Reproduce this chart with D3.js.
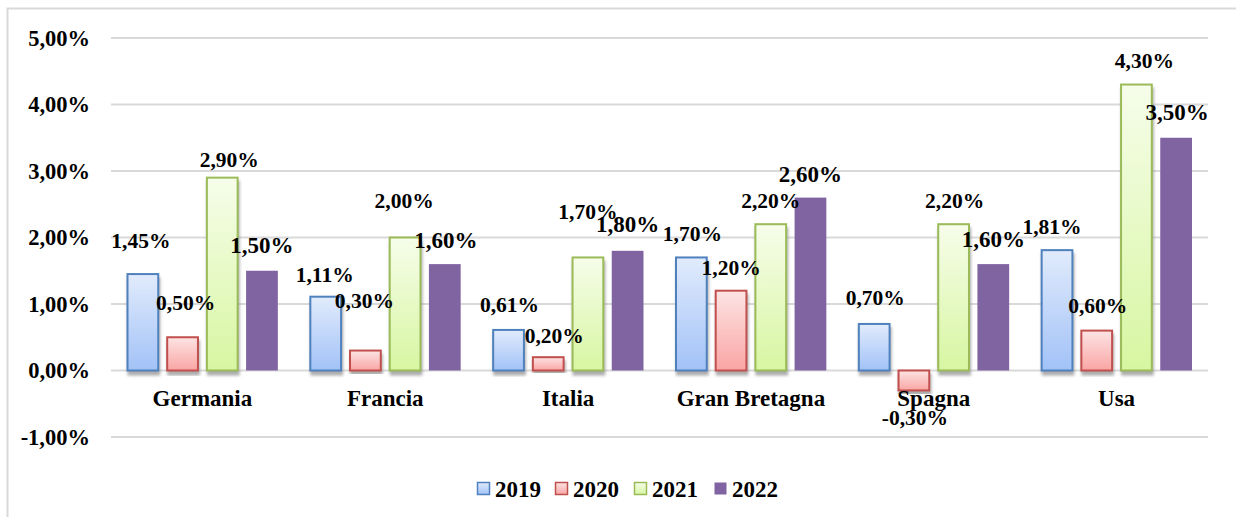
<!DOCTYPE html>
<html>
<head>
<meta charset="utf-8">
<script src="https://cdn.jsdelivr.net/npm/d3@7"></script>
<style>
  body { margin: 0; background: #fff; }
</style>
</head>
<body>
<div id="chart"></div>
<script>
// dati
const countries = ["Germania", "Francia", "Italia", "Gran Bretagna", "Spagna", "Usa"];
const years = ["2019", "2020", "2021", "2022"];
const v2019 = [1.45, 1.11, 0.61, 1.70, 0.70, 1.81];
const v2020 = [0.50, 0.30, 0.20, 1.20, -0.30, 0.60];
const v2021 = [2.90, 2.00, 1.70, 2.20, 2.20, 4.30];
const v2022 = [1.50, 1.60, 1.80, 2.60, 1.60, 3.50];
const yTicks = [-1, 0, 1, 2, 3, 4, 5];

// spostamenti delle etichette (come nell'originale, spostate a mano)
const nudgeX = [[-2, -1, 1, 1, 1, -5], [3, -1, 6, 0, 1, 1], [7, -1, 0, 0, 1, 8], [0, 1, 0, 0, 0, 1]];
const nudgeY = [[-34, -22, -25, -24, -26, -24], [-35, -50, -22, -23, 27, -25], [-18, -37, -46, -24, -24, -24], [-26, -24, -27, -24, -25, -26]];

const series = [v2019, v2020, v2021, v2022];

const FONT = "'Liberation Serif', 'Times New Roman', serif";
const fmt = d => d3.format(".2f")(d).replace(".", ",").replace("\u2212", "-") + "%";

const width = 1236, height = 517;
const margin = { top: 38, left: 111, right: 28 };

const svg = d3.select("#chart").append("svg")
  .attr("width", width)
  .attr("height", height)
  .style("font-family", FONT);

const defs = svg.append("defs");
const grads = [
  { top: "#e1ebfc", bottom: "#a2c2f7", stroke: "#4f81bd" },
  { top: "#fde4e4", bottom: "#f9a5a4", stroke: "#c0504d" },
  { top: "#f6fdea", bottom: "#d7f6a1", stroke: "#9bbb59" },
  { top: "#8064a2", bottom: "#8064a2", stroke: "none" }
];
grads.forEach(function (g, i) {
  const lg = defs.append("linearGradient").attr("id", "g" + i)
    .attr("x1", 0).attr("y1", 0).attr("x2", 0).attr("y2", 1);
  lg.append("stop").attr("offset", "0%").attr("stop-color", g.top);
  lg.append("stop").attr("offset", "100%").attr("stop-color", g.bottom);
});
defs.append("filter").attr("id", "shadow")
  .attr("x", "-20%").attr("y", "-5%").attr("width", "140%").attr("height", "120%")
  .append("feDropShadow")
  .attr("dx", 1).attr("dy", 4).attr("stdDeviation", 1.6)
  .attr("flood-color", "#888").attr("flood-opacity", 0.7);

// cornice
svg.append("path")
  .attr("d", "M7.5," + height + " V8.5 H" + width)
  .attr("fill", "none").attr("stroke", "#d9d9d9").attr("stroke-width", 2);

const x0 = d3.scaleBand().domain(countries)
  .range([margin.left, width - margin.right]).paddingInner(0.175).paddingOuter(0.0875);
const x1 = d3.scaleBand().domain(years).range([0, x0.bandwidth()]).paddingInner(0.2);

const y = d3.scaleLinear().domain([-1, 5]).range([437, 38]);

// griglia
svg.append("g").selectAll("line").data(yTicks).enter().append("line")
  .attr("x1", margin.left).attr("x2", width - margin.right)
  .attr("y1", d => y(d)).attr("y2", d => y(d))
  .attr("stroke", "#d9d9d9").attr("stroke-width", 2);

function styleText(sel, size) {
  sel.style("font-family", FONT).style("font-weight", "bold")
    .style("font-size", size + "px").attr("fill", "#000");
}

// asse y
const yAxis = d3.axisLeft(y).tickValues(yTicks)
  .tickFormat(fmt)
  .tickSize(0).tickPadding(21);
svg.append("g").attr("transform", "translate(" + margin.left + ",0)")
  .call(yAxis)
  .attr("font-family", null)
  .call(g => g.select(".domain").remove())
  .selectAll("text").call(styleText, 22.5);

// barre
series.forEach(function (vals, s) {
  const g = svg.append("g");
  g.selectAll("rect").data(vals).enter().append("rect")
    .attr("x", (d, i) => x0(countries[i]) + x1(years[s]) + (s < 3 ? 0.5 : 0))
    .attr("y", d => y(Math.max(0, d)))
    .attr("width", x1.bandwidth() - (s < 3 ? 1 : 0))
    .attr("height", d => Math.abs(y(d) - y(0)))
    .attr("fill", "url(#g" + s + ")")
    .attr("stroke", grads[s].stroke)
    .attr("stroke-width", s < 3 ? 2 : 0)
    .attr("filter", s < 3 ? "url(#shadow)" : null);
});

// etichette categorie
const xAxis = d3.axisBottom(x0).tickSize(0).tickPadding(19);
svg.append("g").attr("transform", "translate(0," + y(0) + ")")
  .call(xAxis)
  .attr("font-family", null)
  .call(g => g.select(".domain").remove())
  .selectAll("text").call(styleText, 23);

// etichette dati
series.forEach(function (vals, s) {
  svg.append("g").selectAll("text").data(vals).enter().append("text")
    .attr("x", (d, i) => x0(countries[i]) + x1(years[s]) + x1.bandwidth() / 2 + nudgeX[s][i])
    .attr("y", (d, i) => y(d) + nudgeY[s][i])
    .attr("dy", "0.35em")
    .attr("text-anchor", "middle")
    .call(styleText, s === 3 ? 23 : 21.5)
    .text(fmt);
});

// legenda
const legendX = [477, 555, 634, 714];
const legend = svg.append("g");
years.forEach(function (yr, s) {
  const lg = legend.append("g").attr("transform", "translate(" + legendX[s] + ",482)");
  lg.append("rect").attr("x", 0.5).attr("y", 0.5).attr("width", 12).attr("height", 12)
    .attr("fill", "url(#g" + s + ")")
    .attr("stroke", grads[s].stroke).attr("stroke-width", s < 3 ? 1.5 : 0);
  lg.append("text").attr("x", 18).attr("y", 6.5).attr("dy", "0.35em")
    .call(styleText, 23).text(yr);
});
</script>
</body>
</html>
